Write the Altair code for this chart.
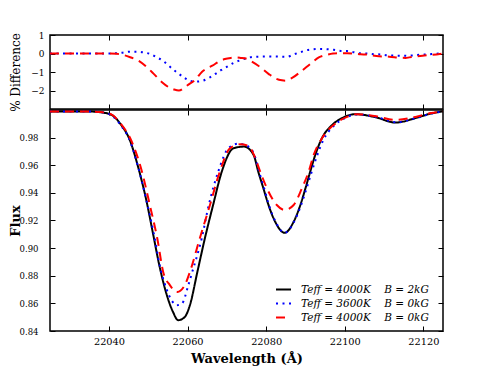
import altair as alt
import pandas as pd

# ---------------- data ----------------
series_names = [
    "Teff = 4000K\u00a0\u00a0\u00a0\u00a0B = 2kG",
    "Teff = 3600K\u00a0\u00a0\u00a0\u00a0B = 0kG",
    "Teff = 4000K\u00a0\u00a0\u00a0\u00a0B = 0kG",
]
series_colors = ["#000000", "#0000ff", "#ff0000"]

# Flux panel
black_x = [22025, 22030, 22035, 22038, 22040.6, 22043.1, 22045.3, 22047.4, 22049.5, 22051.2,
           22052.9, 22054.6, 22056.3, 22057.6, 22059.3, 22060.6, 22062.5, 22064.4, 22066.5, 22068.7,
           22071.7, 22074.4, 22076.8, 22078.0, 22079.3, 22080.6, 22082.3, 22084.7, 22087.0, 22088.7,
           22090.0, 22091.2, 22092.5, 22094.2, 22096.8, 22099.3, 22102.7, 22107.8, 22112.9, 22118.0,
           22122.0, 22125.0]
black_flux = [0.9990, 0.9990, 0.9989, 0.9983, 0.9965, 0.9892, 0.9783, 0.9590, 0.9348, 0.9107,
              0.8865, 0.8672, 0.8538, 0.8478, 0.8502, 0.8587, 0.8828, 0.9070, 0.9312, 0.9553,
              0.9723, 0.9735, 0.9675, 0.9553, 0.9433, 0.9312, 0.9191, 0.9111, 0.9191, 0.9312,
              0.9433, 0.9553, 0.9675, 0.9796, 0.9892, 0.9941, 0.9970, 0.9948, 0.9909, 0.9941,
              0.9975, 0.9990]

blue_x = [22025, 22035, 22038, 22040.6, 22043, 22045.3, 22047.4, 22049.5, 22051.4, 22053.0,
          22054.7, 22056.0, 22057.2, 22058.6, 22060.2, 22061.2, 22063.6, 22065.4, 22067.8, 22070.4,
          22073.0, 22075.5, 22077.0, 22078.2, 22079.5, 22080.7, 22082.4, 22084.7, 22087.0, 22088.8,
          22090.2, 22091.5, 22092.9, 22094.6, 22097.2, 22099.8, 22103.0, 22108.0, 22113.0, 22118.0,
          22122.0, 22125.0]
blue_flux = [0.9990, 0.9989, 0.9984, 0.9963, 0.9890, 0.9780, 0.9590, 0.9350, 0.9107, 0.8865,
             0.8700, 0.8620, 0.8587, 0.8600, 0.8732, 0.8828, 0.9070, 0.9312, 0.9553, 0.9723,
             0.9756, 0.9735, 0.9675, 0.9553, 0.9433, 0.9312, 0.9191, 0.9111, 0.9185, 0.9305,
             0.9425, 0.9545, 0.9665, 0.9785, 0.9885, 0.9937, 0.9968, 0.9950, 0.9912, 0.9940,
             0.9974, 0.9990]

red_x = [22025, 22035, 22038, 22040.6, 22043, 22045.5, 22048.4, 22050.4, 22052.3, 22053.8,
         22055.5, 22057.4, 22059.3, 22060.6, 22063.1, 22065.7, 22068.2, 22070.8, 22073.4, 22075.5,
         22076.9, 22078.5, 22080.2, 22082.7, 22084.7, 22087.0, 22089.1, 22090.8, 22092.1, 22094.2,
         22097.2, 22100.6, 22103.0, 22108.0, 22113.0, 22118.0, 22122.0, 22125.0]
red_flux = [0.9990, 0.9989, 0.9985, 0.9968, 0.9900, 0.9790, 0.9553, 0.9312, 0.9070, 0.8828,
            0.8732, 0.8683, 0.8732, 0.8828, 0.9070, 0.9312, 0.9553, 0.9723, 0.9752, 0.9740,
            0.9675, 0.9553, 0.9433, 0.9312, 0.9276, 0.9312, 0.9433, 0.9553, 0.9675, 0.9796,
            0.9892, 0.9950, 0.9970, 0.9955, 0.9928, 0.9950, 0.9978, 0.9990]

# % Difference panel
diff_blue_x = [22025, 22040, 22043, 22045.4, 22047.3, 22049.1, 22050.7, 22052.2, 22053.7, 22055.0,
               22056.3, 22057.8, 22059.1, 22060.6, 22062.2, 22064.0, 22065.6, 22067.1, 22068.6, 22070.1,
               22071.6, 22073.2, 22074.8, 22076.8, 22081.0, 22085.3, 22087.0, 22088.7, 22090.4, 22092.1,
               22093.8, 22095.5, 22097.2, 22099.0, 22100.6, 22102.3, 22104.0, 22105.7, 22107.4, 22109.1,
               22111.0, 22112.7, 22114.4, 22116.1, 22117.8, 22119.5, 22121.2, 22123.2, 22125.0]
diff_blue = [0.0, 0.0, 0.03, 0.10, 0.10, 0.05, -0.04, -0.21, -0.39, -0.62,
             -0.86, -1.10, -1.30, -1.48, -1.52, -1.46, -1.30, -1.10, -0.89, -0.71,
             -0.52, -0.38, -0.27, -0.18, -0.16, -0.18, -0.05, 0.07, 0.18, 0.23,
             0.25, 0.23, 0.20, 0.14, 0.13, 0.07, 0.01, 0.0, -0.04, -0.05,
             -0.10, -0.11, -0.12, -0.12, -0.09, -0.06, -0.05, -0.01, 0.0]

diff_red_x = [22025, 22040, 22042, 22044, 22045.4, 22047.6, 22049.7, 22051.4, 22053.5, 22055.2,
              22056.6, 22057.8, 22059.1, 22059.9, 22062.0, 22063.7, 22065.0, 22066.3, 22068.0, 22069.5,
              22071.0, 22072.5, 22073.5, 22075.2, 22076.3, 22078.0, 22080.6, 22082.3, 22084.0, 22084.9,
              22086.6, 22089.1, 22091.2, 22093.4, 22095.5, 22097.0, 22098.5, 22100.6, 22102.5, 22104.0,
              22105.7, 22108.7, 22111.3, 22114.2, 22115.5, 22116.4, 22119.8, 22122.3, 22125.0]
diff_red = [0.0, 0.0, -0.02, -0.10, -0.20, -0.40, -0.75, -1.10, -1.55, -1.82,
            -1.95, -2.00, -1.86, -1.73, -1.41, -0.98, -0.80, -0.66, -0.43, -0.30,
            -0.24, -0.22, -0.24, -0.30, -0.43, -0.66, -1.10, -1.34, -1.45, -1.47,
            -1.32, -0.93, -0.57, -0.21, -0.07, 0.0, 0.02, 0.02, -0.01, -0.04,
            -0.06, -0.15, -0.17, -0.23, -0.24, -0.21, -0.12, -0.07, 0.0]

x_ticks = [22040, 22060, 22080, 22100, 22120]
flux_ticks = [0.84, 0.86, 0.88, 0.90, 0.92, 0.94, 0.96, 0.98]
diff_ticks = [-2, -1, 0, 1]


def frame(xs, ys, name):
    return pd.DataFrame({"wavelength": xs, "value": ys, "series": [name] * len(xs)})


flux_frames = [frame(black_x, black_flux, series_names[0]),
               frame(blue_x, blue_flux, series_names[1]),
               frame(red_x, red_flux, series_names[2])]
diff_frames = [frame(diff_blue_x, diff_blue, series_names[1]),
               frame(diff_red_x, diff_red, series_names[2])]

# ---------------- layout ----------------
W = 393
H_TOP = 74
H_BOT = 221
FONT = "DejaVu Serif"
TICK = 5

x_scale = alt.Scale(domain=[22025, 22125], nice=False, zero=False)
color_scale = alt.Scale(domain=series_names, range=series_colors)
dash_scale = alt.Scale(domain=series_names, range=[[1, 0], [2, 4.5], [9, 6]])


def tick_axis(orient, values):
    # ticks drawn inward: the axis is pulled inside the frame by its own tick length
    return alt.Axis(orient=orient, offset=-TICK, values=values, labels=False, domain=False,
                    grid=False, ticks=True, tickSize=TICK, tickColor="black", tickWidth=1,
                    title=None, minExtent=0, maxExtent=0)


def line_layer(df, xaxis, yaxis, yscale, legend, opacity=1.0):
    return alt.Chart(df).mark_line(interpolate="monotone", strokeWidth=2, strokeCap="butt",
                                   opacity=opacity).encode(
        x=alt.X("wavelength:Q", scale=x_scale, axis=xaxis),
        y=alt.Y("value:Q", scale=yscale, axis=yaxis),
        color=alt.Color("series:N", scale=color_scale, legend=legend),
        strokeDash=alt.StrokeDash("series:N", scale=dash_scale, legend=legend),
    )


# ---- top panel: % Difference ----
diff_scale = alt.Scale(domain=[-3, 1], nice=False, zero=False)
diff_label_axis = alt.Axis(orient="left", values=diff_ticks, format="d", ticks=False, domain=False,
                           grid=False, labelPadding=6, labelFont=FONT, labelFontSize=9,
                           labelColor="black", title="% Difference", titleFont=FONT,
                           titleFontSize=12, titleFontWeight="normal", titleAngle=270,
                           titleAlign="center", titleBaseline="middle", titleX=-35,
                           titleY=H_TOP / 2, titleColor="black")

top = alt.layer(
    line_layer(diff_frames[0], tick_axis("bottom", x_ticks), diff_label_axis, diff_scale, None),
    line_layer(diff_frames[1], tick_axis("top", x_ticks), tick_axis("left", diff_ticks),
               diff_scale, None),
    line_layer(diff_frames[1], None, tick_axis("right", diff_ticks), diff_scale, None,
               opacity=0.0),
).resolve_axis(x="independent", y="independent").properties(width=W, height=H_TOP)

# ---- bottom panel: Flux ----
flux_scale = alt.Scale(domain=[0.84, 1.0], nice=False, zero=False)
flux_label_axis = alt.Axis(orient="left", values=flux_ticks, format=".2f", ticks=False, domain=False,
                           grid=False, labelPadding=12, labelFont=FONT, labelFontSize=8.5,
                           labelColor="black", title="Flux", titleFont=FONT, titleFontSize=13,
                           titleFontWeight="bold", titleAngle=270, titleAlign="center",
                           titleBaseline="middle", titleX=-35, titleY=H_BOT / 2, titleColor="black")
x_label_axis = alt.Axis(orient="bottom", values=x_ticks, format="d", ticks=False, domain=False,
                        grid=False, labelPadding=5, labelFont=FONT, labelFontSize=9.75,
                        labelColor="black", title="Wavelength (Å)", titleFont=FONT,
                        titleFontSize=13, titleFontWeight="bold", titlePadding=7,
                        titleColor="black")

legend = alt.Legend(orient="none", legendX=225, legendY=171, title=None, symbolType="stroke",
                    symbolSize=225, symbolStrokeWidth=2, labelFont=FONT, labelFontStyle="italic",
                    labelFontSize=10.5, labelColor="black", rowPadding=0, labelOffset=9)

bottom = alt.layer(
    line_layer(flux_frames[0], x_label_axis, flux_label_axis, flux_scale, legend),
    line_layer(flux_frames[1], tick_axis("bottom", x_ticks), tick_axis("left", flux_ticks),
               flux_scale, legend),
    line_layer(flux_frames[2], tick_axis("top", x_ticks), tick_axis("right", flux_ticks),
               flux_scale, legend),
).resolve_axis(x="independent", y="independent").properties(width=W, height=H_BOT)

# "flush" bounds: panels are stacked by their plot areas only, 1px apart
chart = alt.vconcat(top, bottom, spacing=1, bounds="flush").resolve_scale(
    color="independent", strokeDash="independent"
).properties(
    padding={"left": 0, "top": 22, "right": 5, "bottom": 0}
).configure_view(stroke="black", strokeWidth=1.5)

chart.save("out.html", embed_options={"renderer": "svg", "actions": False})
